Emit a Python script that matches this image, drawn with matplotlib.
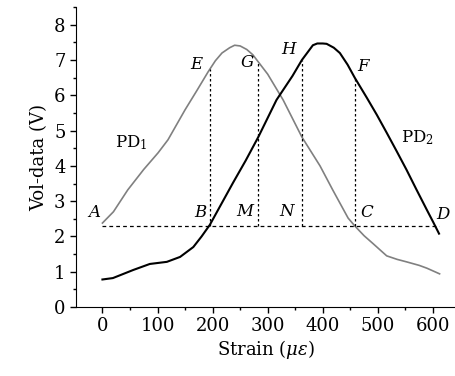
import numpy as np
import matplotlib
matplotlib.use("Agg")
import matplotlib.pyplot as plt
from matplotlib.ticker import MultipleLocator

# PD1 (gray) and PD2 (black) curves
strain1 = [0, 20, 46, 75, 101, 119, 150, 172, 192, 205, 217, 231, 240, 250, 262, 273,
           300, 328, 362, 395, 418, 446, 458, 475, 491, 516, 535, 552, 575, 589, 612]
vol1 = [2.38, 2.7, 3.32, 3.9, 4.37, 4.74, 5.59, 6.15, 6.67, 6.98, 7.2, 7.35, 7.42, 7.4, 7.3, 7.15,
        6.6, 5.87, 4.82, 4.0, 3.32, 2.52, 2.3, 2.02, 1.8, 1.45, 1.35, 1.28, 1.18, 1.1, 0.94]

strain2 = [0, 19, 56, 86, 117, 141, 165, 180, 195, 213, 237, 260, 283, 316, 345, 362,
           382, 390, 400, 407, 420, 431, 445, 458, 480, 498, 516, 534, 552, 570, 589, 600, 611]
vol2 = [0.78, 0.82, 1.05, 1.22, 1.28, 1.42, 1.7, 2.0, 2.33, 2.84, 3.52, 4.15, 4.82, 5.87, 6.55, 7.0,
        7.42, 7.47, 7.47, 7.46, 7.35, 7.2, 6.87, 6.5, 5.93, 5.45, 4.94, 4.42, 3.89, 3.33, 2.75, 2.42, 2.08]

# reference level and the marked strains (B, M, N, C)
level = 2.31
marks_on_pd1 = [195, 282]   # E, G
marks_on_pd2 = [362, 458]   # H, F

point_labels = ["A", "B", "M", "N", "C", "D", "E", "G", "H", "F"]
label_x = [-14, 177, 259, 334, 480, 618, 171, 262, 337, 473]
label_y = [2.67, 2.67, 2.7, 2.7, 2.67, 2.62, 6.87, 6.92, 7.29, 6.81]

plt.rcParams['font.family'] = ['DejaVu Serif']
plt.rcParams['mathtext.fontset'] = 'dejavuserif'

fig = plt.figure(figsize=(4.55, 3.76), dpi=100)
ax = fig.add_axes([0.167, 0.1835, 0.833, 0.7975])

ax.plot(strain1, vol1, color="#808080", lw=1.2)
ax.plot(strain2, vol2, color="black", lw=1.5)

ax.plot([0, 611], [level, level], color="black", lw=0.9, ls=(0, (3, 2.5)))
for s in marks_on_pd1:
    ax.plot([s, s], [level, np.interp(s, strain1, vol1)], color="black", lw=0.9, ls=(0, (2, 2)))
for s in marks_on_pd2:
    ax.plot([s, s], [level, np.interp(s, strain2, vol2)], color="black", lw=0.9, ls=(0, (2, 2)))

for lab, x, y in zip(point_labels, label_x, label_y):
    ax.text(x, y, lab, style="italic", fontsize=12, ha="center", va="center")

ax.text(53, 4.65, r"PD$_1$", fontsize=12, ha="center", va="center")
ax.text(571, 4.79, r"PD$_2$", fontsize=12, ha="center", va="center")

ax.set_xlim(-48, 640)
ax.set_ylim(0, 8.5)
ax.xaxis.set_minor_locator(MultipleLocator(50))
ax.yaxis.set_minor_locator(MultipleLocator(0.5))
ax.set_xticks(range(0, 601, 100))
ax.set_yticks(range(0, 9))
ax.tick_params(which="major", length=4, width=1, labelsize=13, direction="out")
ax.tick_params(which="minor", length=2.5, width=1, direction="out")

for side in ["top", "right"]:
    ax.spines[side].set_visible(False)

ax.set_xlabel(r"Strain ($\mu\varepsilon$)", fontsize=13, labelpad=2)
ax.set_ylabel("Vol-data (V)", fontsize=13, labelpad=4)

fig.savefig("out.png", dpi=100)
